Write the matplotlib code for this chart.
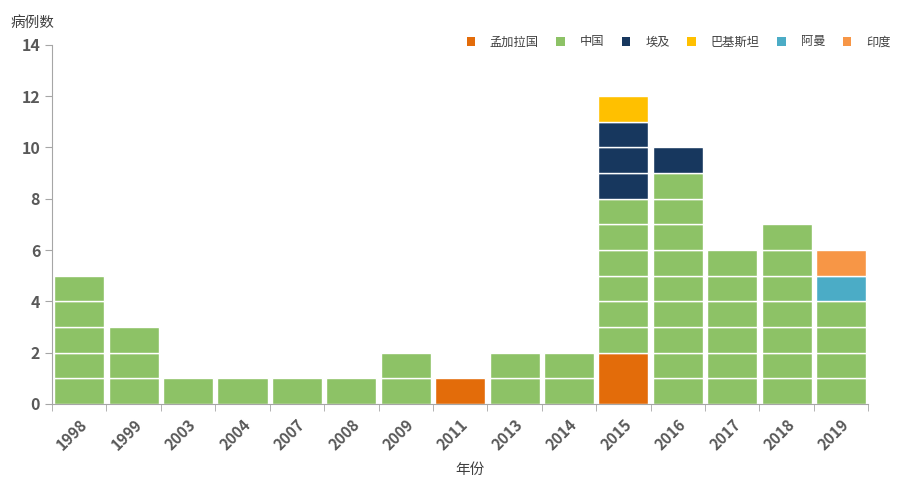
import numpy as np
import matplotlib
matplotlib.use('Agg')
import matplotlib.pyplot as plt
from matplotlib.patches import Patch

plt.rcParams['font.family'] = ['Noto Sans CJK SC', 'DejaVu Sans']

years = ['1998', '1999', '2003', '2004', '2007', '2008', '2009', '2011',
         '2013', '2014', '2015', '2016', '2017', '2018', '2019']
countries = ['孟加拉国', '中国', '埃及', '巴基斯坦', '阿曼', '印度']
bangladesh = [0, 0, 0, 0, 0, 0, 0, 1, 0, 0, 2, 0, 0, 0, 0]
china = [5, 3, 1, 1, 1, 1, 2, 0, 2, 2, 6, 9, 6, 7, 4]
egypt = [0, 0, 0, 0, 0, 0, 0, 0, 0, 0, 3, 1, 0, 0, 0]
pakistan = [0, 0, 0, 0, 0, 0, 0, 0, 0, 0, 1, 0, 0, 0, 0]
oman = [0, 0, 0, 0, 0, 0, 0, 0, 0, 0, 0, 0, 0, 0, 1]
india = [0, 0, 0, 0, 0, 0, 0, 0, 0, 0, 0, 0, 0, 0, 1]
colors = ['#E36C0A', '#8DC266', '#17375E', '#FFC000', '#4BACC6', '#F79646']

series = [bangladesh, china, egypt, pakistan, oman, india]

fig = plt.figure(figsize=(8.97, 4.82), dpi=100)
ax = fig.add_axes([0.058, 0.162, 0.910, 0.745])

x = np.arange(len(years))
bottom = np.zeros(len(years))
for vals, col in zip(series, colors):
    for i, v in enumerate(vals):
        if col == '#E36C0A':
            # the orange block is drawn as one piece
            ax.bar(x[i], v, bottom=bottom[i], width=0.92, color=col,
                   edgecolor='white', linewidth=1.0)
            continue
        # one block per case, white line between blocks
        for k in range(v):
            ax.bar(x[i], 1, bottom=bottom[i] + k, width=0.92, color=col,
                   edgecolor='white', linewidth=1.0)
    bottom += np.array(vals)

ax.set_xlim(-0.5, len(years) - 0.5)
ax.set_ylim(0, 14)
ax.set_yticks(np.arange(0, 15, 2))
ax.set_xticks(x)
ax.set_xticklabels(years, rotation=45, ha='right', rotation_mode='anchor',
                   fontsize=11, fontweight='bold', color='#595959')
ax.set_xticks(np.arange(-0.5, len(years)), minor=True)
ax.tick_params(axis='x', which='major', length=0, pad=9)
ax.tick_params(axis='x', which='minor', length=5, color='#A6A6A6')
ax.tick_params(axis='y', length=5, color='#A6A6A6', labelsize=11.5,
               labelcolor='#595959')
for lab in ax.get_yticklabels():
    lab.set_fontweight('bold')

for s in ['top', 'right']:
    ax.spines[s].set_visible(False)
for s in ['left', 'bottom']:
    ax.spines[s].set_color('#A6A6A6')

fig.text(0.012, 0.953, '病例数', fontsize=10.5, color='#404040', va='center',
         fontweight='medium')
fig.text(0.524, 0.025, '年份', fontsize=10.5, color='#404040', ha='center',
         va='center', fontweight='medium')

handles = [Patch(facecolor=c) for c in colors]
fig.legend(handles, countries, ncol=6, loc='center right',
           bbox_to_anchor=(1.005, 1 - 42 / 482), frameon=False, fontsize=8.8,
           handlelength=0.7, handleheight=0.7, columnspacing=1.45,
           handletextpad=1.2, labelcolor='#404040')

fig.savefig('out.png', dpi=100)
